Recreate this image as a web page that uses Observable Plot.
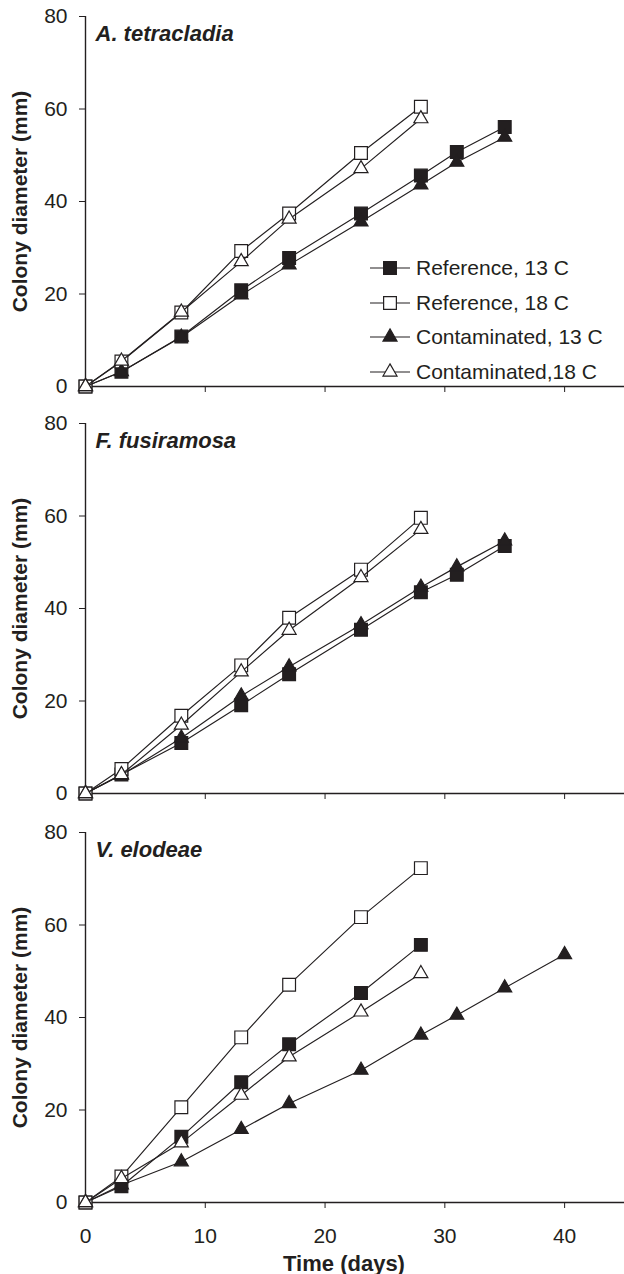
<!DOCTYPE html>
<html>
<head>
<meta charset="utf-8">
<script src="https://cdn.jsdelivr.net/npm/d3@7"></script>
<script src="https://cdn.jsdelivr.net/npm/@observablehq/plot@0.6"></script>
<style>
  body { margin: 0; background: #fff; }
  #chart { position: relative; width: 624px; height: 1274px; overflow: hidden; }
  #chart svg { display: block; }
  g[aria-label="y-axis label"] text { font-weight: bold; font-size: 21px; }
  .lg-text { position: absolute; font-family: "Liberation Sans", Arial, sans-serif; font-size: 21px; line-height: 24px; color: #231f20; white-space: nowrap; }
</style>
</head>
<body>
<div id="chart"></div>
<script>
// ---------- data ----------
const days13 = [0, 3, 8, 13, 17, 23, 28, 31, 35];
const days18 = [0, 3, 8, 13, 17, 23, 28];
const daysVeCon13 = [0, 3, 8, 13, 17, 23, 28, 31, 35, 40];

const seriesNames = ["Reference, 13 C", "Reference, 18 C", "Contaminated, 13 C", "Contaminated,18 C"];
const panelTitles = ["A. tetracladia", "F. fusiramosa", "V. elodeae"];

// A. tetracladia
const atRef13 = [0, 3.2, 10.8, 20.8, 27.8, 37.4, 45.6, 50.7, 56.1];
const atRef18 = [0, 5.4, 16.0, 29.3, 37.4, 50.5, 60.5];
const atCon13 = [0, 3.2, 10.7, 19.8, 26.3, 35.6, 43.6, 48.5, 53.9];
const atCon18 = [0, 5.5, 16.1, 27.0, 36.2, 47.1, 57.9];

// F. fusiramosa
const ffRef13 = [0, 4.1, 10.9, 19.1, 25.8, 35.4, 43.5, 47.3, 53.5];
const ffRef18 = [0, 5.3, 16.8, 27.7, 38.0, 48.4, 59.6];
const ffCon13 = [0, 4.0, 12.0, 21.1, 27.4, 36.5, 44.6, 49.0, 54.6];
const ffCon18 = [0, 4.1, 14.8, 26.3, 35.3, 46.7, 57.1];

// V. elodeae
const veRef13 = [0, 3.5, 14.2, 26.0, 34.2, 45.3, 55.7];
const veRef18 = [0, 5.6, 20.6, 35.7, 47.1, 61.7, 72.3];
const veCon13 = [0, 3.8, 8.8, 15.8, 21.4, 28.6, 36.2, 40.5, 46.4, 53.6];
const veCon18 = [0, 5.2, 12.9, 23.2, 31.5, 41.2, 49.5];

const yTicks = [0, 20, 40, 60, 80];
const xTicks = [0, 10, 20, 30, 40];
const yLabel = "Colony diameter (mm)";
const xLabel = "Time (days)";

// ---------- styles ----------
const ink = "#231f20";
const seriesStyle = [
  {symbol: "square", fill: ink, r: 7.2},
  {symbol: "square", fill: "#fff", r: 7.2},
  {symbol: "triangle", fill: ink, r: 5.2},
  {symbol: "triangle", fill: "#fff", r: 5.2}
];

function rows(xs, ys, s) { return ys.map((v, i) => ({day: xs[i], value: v, series: s})); }

const panels = [
  {title: panelTitles[0], data: [rows(days13, atRef13, 0), rows(days18, atRef18, 1), rows(days13, atCon13, 2), rows(days18, atCon18, 3)],
   height: 410, marginTop: 16, marginBottom: 24, showX: false},
  {title: panelTitles[1], data: [rows(days13, ffRef13, 0), rows(days18, ffRef18, 1), rows(days13, ffCon13, 2), rows(days18, ffCon18, 3)],
   height: 410, marginTop: 13, marginBottom: 27, showX: false},
  {title: panelTitles[2], data: [rows(days18, veRef13, 0), rows(days18, veRef18, 1), rows(daysVeCon13, veCon13, 2), rows(days18, veCon18, 3)],
   height: 454, marginTop: 12, marginBottom: 72, showX: true}
];

const chart = document.getElementById("chart");

for (const p of panels) {
  const marks = [
    Plot.ruleY([0], {stroke: ink, strokeWidth: 1.4}),
    Plot.ruleX([0], {stroke: ink, strokeWidth: 1.4}),
    Plot.axisY({ticks: yTicks, tickSize: 6, tickPadding: 12, stroke: ink, fill: ink,
      label: yLabel, labelAnchor: "center", labelOffset: 73, labelArrow: "none"}),
    p.showX
      ? Plot.axisX({ticks: xTicks, tickSize: 6, tickPadding: 20, stroke: ink, fill: ink, label: null})
      : Plot.axisX({ticks: xTicks, tickSize: 6, tickFormat: () => "", stroke: ink, label: null}),
    Plot.text([p.title], {frameAnchor: "top-left", textAnchor: "start", lineAnchor: "top", dx: 10, dy: 9,
      fontWeight: "bold", fontStyle: "italic", fontSize: 22, fill: ink})
  ];
  if (p.showX) {
    marks.push(Plot.text([xLabel], {frameAnchor: "bottom", lineAnchor: "bottom", dx: -11, dy: 68,
      fontWeight: "bold", fontSize: 22, fill: ink}));
  }
  p.data.forEach((d, i) => {
    const st = seriesStyle[i];
    marks.push(Plot.line(d, {x: "day", y: "value", stroke: ink, strokeWidth: 1.15}));
    marks.push(Plot.dot(d, {x: "day", y: "value", symbol: st.symbol, r: st.r, fill: st.fill, stroke: ink, strokeWidth: 1.2}));
  });
  const svg = Plot.plot({
    width: 624,
    height: p.height,
    marginLeft: 85,
    marginRight: 0,
    marginTop: p.marginTop,
    marginBottom: p.marginBottom,
    style: {fontFamily: "'Liberation Sans', Arial, sans-serif", fontSize: "21px", color: ink, background: "#fff", overflow: "visible"},
    x: {domain: [0, 45]},
    y: {domain: [0, 80]},
    marks
  });
  chart.appendChild(svg);
}

// ---------- legend (inside top panel) ----------
const legendTop = 268;
const legendStep = 34.5;
seriesNames.forEach((name, i) => {
  const st = seriesStyle[i];
  const cy = legendTop + i * legendStep;
  const ns = "http://www.w3.org/2000/svg";
  const s = document.createElementNS(ns, "svg");
  s.setAttribute("width", 52); s.setAttribute("height", 24);
  s.style.position = "absolute"; s.style.left = "362px"; s.style.top = (cy - 12) + "px";
  const ln = document.createElementNS(ns, "line");
  ln.setAttribute("x1", 8); ln.setAttribute("x2", 48); ln.setAttribute("y1", 12); ln.setAttribute("y2", 12);
  ln.setAttribute("stroke", ink); ln.setAttribute("stroke-width", 1.15);
  s.appendChild(ln);
  const path = document.createElementNS(ns, "path");
  const sym = st.symbol === "square" ? d3.symbolSquare : d3.symbolTriangle;
  path.setAttribute("d", d3.symbol(sym, st.r * st.r * Math.PI)());
  path.setAttribute("transform", "translate(28,12)");
  path.setAttribute("fill", st.fill); path.setAttribute("stroke", ink); path.setAttribute("stroke-width", 1.2);
  s.appendChild(path);
  chart.appendChild(s);
  const t = document.createElement("div");
  t.className = "lg-text";
  t.textContent = name;
  t.style.left = "416px"; t.style.top = (cy - 12) + "px";
  chart.appendChild(t);
});
</script>
</body>
</html>
